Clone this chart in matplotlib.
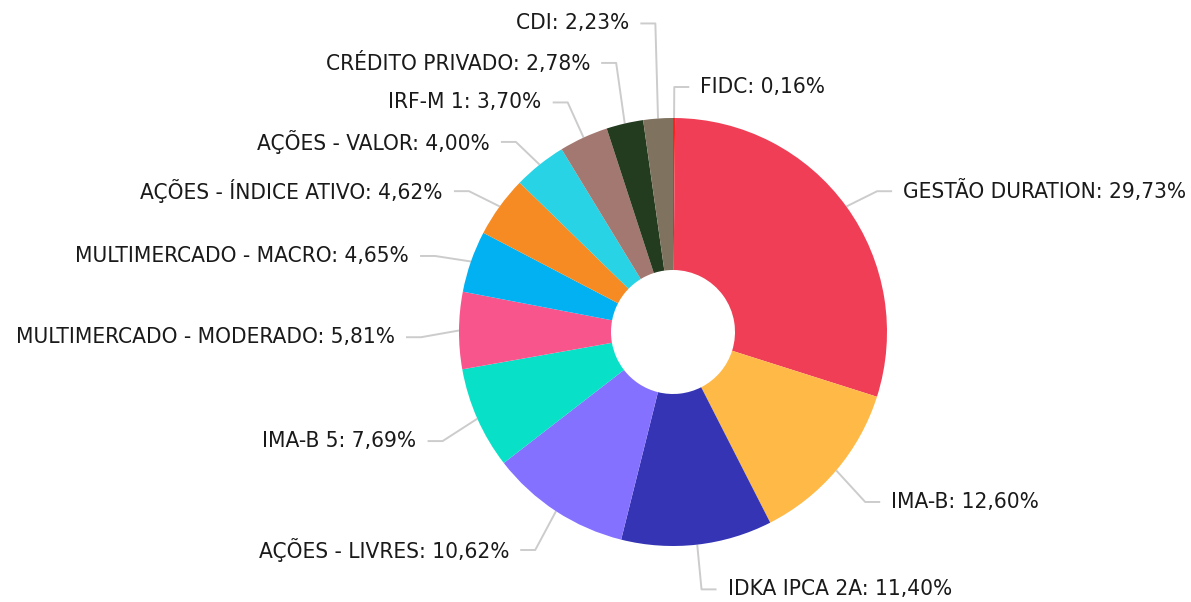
import matplotlib
matplotlib.use("Agg")
import matplotlib.pyplot as plt
import numpy as np

# data
labels = ["FIDC", "GESTÃO DURATION", "IMA-B", "IDKA IPCA 2A", "AÇÕES - LIVRES",
          "IMA-B 5", "MULTIMERCADO - MODERADO", "MULTIMERCADO - MACRO",
          "AÇÕES - ÍNDICE ATIVO", "AÇÕES - VALOR", "IRF-M 1",
          "CRÉDITO PRIVADO", "CDI"]
values = [0.16, 29.73, 12.60, 11.40, 10.62, 7.69, 5.81, 4.65, 4.62, 4.00,
          3.70, 2.78, 2.23]
colors = ["#FF1F1F", "#EF3E55", "#FFB946", "#3434B5", "#8571FF", "#08E0C8",
          "#F7558C", "#01B1F1", "#F58B22", "#27D3E5", "#A27870", "#233B1E",
          "#7F725F"]

W, H = 1191, 602
cx, cy = 673, H - 332
R = 214
hole = 62
r_elbow = 252
seg = 15
gap = 11
spacing = 39.5
yoff = -7

plt.rcParams['font.family'] = ['DejaVu Sans']
fig = plt.figure(figsize=(W / 100, H / 100), dpi=100)
ax = fig.add_axes([0, 0, 1, 1])
ax.axis("off")

wedges, _ = ax.pie(values, colors=colors, startangle=90, counterclock=False,
                   center=(cx, cy), radius=R,
                   wedgeprops=dict(width=R - hole, linewidth=0))
ax.set_xlim(0, W)
ax.set_ylim(0, H)

# label layout: radial elbow, then push overlapping labels apart
items = []
for w, lab, v in zip(wedges, labels, values):
    th = np.deg2rad((w.theta1 + w.theta2) / 2)
    c, s = np.cos(th), np.sin(th)
    items.append(dict(text=f"{lab}: {v:.2f}%".replace(".", ","),
                      edge=(cx + R * c, cy + R * s),
                      ex=cx + r_elbow * c,
                      ey=cy + r_elbow * s + yoff,
                      right=c >= 0))

for side in (True, False):
    grp = sorted([it for it in items if it["right"] == side], key=lambda d: d["ey"])
    prev = None
    for it in grp:
        if prev is not None and it["ey"] < prev + spacing:
            it["ey"] = prev + spacing
        prev = it["ey"]

for it in items:
    d = 1 if it["right"] else -1
    x2 = it["ex"] + d * seg
    ax.plot([it["edge"][0], it["ex"], x2], [it["edge"][1], it["ey"], it["ey"]],
            color="#CCCCCC", lw=1.4, solid_capstyle="butt", zorder=0)
    ax.text(x2 + d * gap, it["ey"], it["text"], fontsize=16.2,
            fontstretch="condensed", color="#1A1A1A",
            ha="left" if it["right"] else "right", va="center")

fig.savefig("out.png", dpi=100, facecolor="white")
